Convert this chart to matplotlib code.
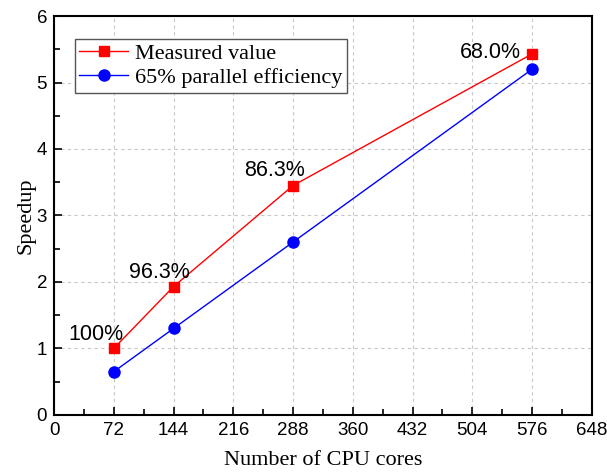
import numpy as np
import matplotlib.pyplot as plt
from matplotlib.ticker import MultipleLocator

# Data
cores = [72, 144, 288, 576]
measured = [1.0, 1.93, 3.45, 5.43]
ideal65 = [0.65, 1.3, 2.6, 5.2]
eff_labels = ['100%', '96.3%', '86.3%', '68.0%']

fig = plt.figure(figsize=(6.07, 4.72), dpi=100)
ax = fig.add_axes([0.089, 0.121, 0.886, 0.845])

ax.plot(cores, measured, color='red', marker='s', markersize=7, lw=1,
        label='Measured value')
ax.plot(cores, ideal65, color='blue', marker='o', markersize=8, lw=1,
        label='65% parallel efficiency')

# efficiency annotations
offsets = [(-33, 6), (-32, 6), (-35.5, 7), (-52, -3)]
for x, y, t, off in zip(cores, measured, eff_labels, offsets):
    ax.annotate(t, (x, y), xytext=off, textcoords='offset points',
                fontsize=15.5, family='Liberation Sans')

ax.set_xlim(0, 648)
ax.set_ylim(0, 6)
ax.xaxis.set_major_locator(MultipleLocator(72))
ax.xaxis.set_minor_locator(MultipleLocator(36))
ax.yaxis.set_major_locator(MultipleLocator(1))
ax.yaxis.set_minor_locator(MultipleLocator(0.5))
ax.tick_params(which='both', direction='in', top=False, right=False,
               labelsize=13.5, width=1.2)
ax.tick_params(which='major', length=6, pad=5)
ax.tick_params(which='minor', length=4)
for lab in ax.get_xticklabels() + ax.get_yticklabels():
    lab.set_family('Liberation Sans')
for s in ax.spines.values():
    s.set_linewidth(1.5)

ax.grid(True, which='major', ls=(0, (3, 3)), color='#c8c8c8', lw=0.8)

ax.set_xlabel('Number of CPU cores', family='Liberation Serif', fontsize=16, labelpad=9)
ax.set_ylabel('Speedup', family='Liberation Serif', fontsize=16, labelpad=1)

leg = ax.legend(loc='upper left', bbox_to_anchor=(0.039, 0.942), fancybox=False,
                prop={'family': 'Liberation Serif', 'size': 16},
                edgecolor='#555555', framealpha=1, borderpad=0.2,
                handlelength=2.2, handletextpad=0.3, labelspacing=0.15,
                borderaxespad=0)
leg.get_frame().set_linewidth(1)

plt.savefig('out.png')
